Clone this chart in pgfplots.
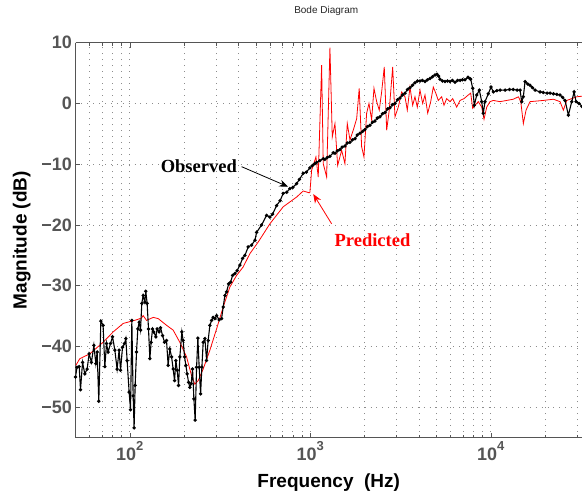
\documentclass[border=0pt]{standalone}
\usepackage{fontspec}
\setmainfont{Liberation Sans}
\newfontfamily\timesfont{Liberation Serif}
\usepackage{pgfplots}
\pgfplotsset{compat=1.18}
\usetikzlibrary{arrows.meta}
\definecolor{tickgray}{RGB}{85,85,85}
\definecolor{gridgray}{RGB}{140,140,140}

\begin{document}
\begin{tikzpicture}
\begin{axis}[
    scale only axis,
    width=506.5pt, height=395pt,
    xmode=log,
    xmin=50, xmax=32000,
    ymin=-55, ymax=10,
    axis y line*=left,
    y axis line style={-},
    axis line style={tickgray, line width=0.8pt},
    xtick={100,1000,10000},
    xticklabels={{10\raisebox{0.55em}{\fontsize{13}{13}\selectfont 2}},
                 {10\raisebox{0.55em}{\fontsize{13}{13}\selectfont 3}},
                 {10\raisebox{0.55em}{\fontsize{13}{13}\selectfont 4}}},
    minor xtick={50,60,70,80,90,200,300,400,500,600,700,800,900,
                 2000,3000,4000,5000,6000,7000,8000,9000,20000,30000},
    ytick={-50,-40,-30,-20,-10,0,10},
    yticklabels={−50,−40,−30,−20,−10,0,10},
    grid=both,
    major grid style={gridgray, line width=0.7pt, dash pattern=on 0.9pt off 5pt},
    minor grid style={gridgray, line width=0.7pt, dash pattern=on 0.9pt off 5pt},
    major tick length=5pt, minor tick length=3pt,
    tick style={tickgray, line width=0.6pt},
    tick label style={font=\fontsize{18}{18}\selectfont\bfseries, text=tickgray},
    xlabel={Frequency\ \ (Hz)},
    ylabel={Magnitude (dB)},
    label style={font=\fontsize{19}{19}\selectfont\bfseries},
    xlabel style={at={(axis description cs:0.5,-0.127)}, anchor=base},
    ylabel style={at={(axis description cs:-0.1062,0.5)}, anchor=center},
    title={Bode Diagram},
    title style={font=\fontsize{10}{12}\selectfont, text=black!85,
                 at={(axis description cs:0.495,1.065)}, anchor=center},
]
% Predicted
\addplot[red, line width=0.8pt, mark=none] coordinates {
 (50.2,-43.1) (52.8,-42.0) (60.0,-41.2) (71.1,-39.3) (80.8,-37.6) (91.8,-36.2)
 (108.9,-35.6) (116.1,-35.3) (118.5,-34.9) (123.8,-35.7) (134.7,-35.2) (143.6,-35.4)
 (159.7,-36.5) (173.8,-37.3) (189.3,-39.3) (206.2,-41.7) (219.8,-44.8) (229.3,-46.2)
 (239.2,-45.6) (254.9,-43.7) (277.6,-40.6) (302.4,-37.1) (329.0,-33.5) (358.4,-30.2)
 (390.3,-28.3) (424.6,-26.9) (462.7,-24.7) (514.3,-22.8) (597.0,-19.8) (707.5,-17.0)
 (839.5,-15.4) (913.2,-14.4) (986,-14.7) (994.7,-14.6) (1016.7,-11.0) (1074,-8.8)
 (1106,-12.1) (1155,6.3) (1179,-9.9) (1231,-12.1) (1284,9.2) (1323,-5.5) (1369,-3.3)
 (1417,-10.2) (1491,-7.7) (1555,-9.9) (1602,-3.3) (1658,-6.0) (1729,-4.4) (1806,-2.5)
 (1866,2.5) (1924,-7.1) (1982,-8.8) (2051,-1.6) (2113,0) (2186,-2.7) (2252,2.5)
 (2331,0.3) (2409,-1.1) (2484,1.9) (2568,6.0) (2648,-4.4) (2737,-1.1) (2859,6.0)
 (2944,-2.2) (3071,-0.6) (3207,1.9) (3345,1.1) (3445,-1.1) (3565,2.7) (3690,-0.3)
 (3800,1.1) (3914,-0.6) (4050,2.2) (4192,0) (4318,1.4) (4470,-1.6) (4644,0.3)
 (4800,2.7) (4968,1.6) (5116,0.5) (5342,1.1) (5502,-0.3) (5694,0.8) (5939,0.3)
 (6147,0.8) (6470,-0.6) (6750,0.5) (7103,0.8) (7503,1.4) (7736,1.7) (7936,-0.8)
 (8173,-0.3) (8525,0.3) (8902,-0.6) (9168,-2.6) (9489,-0.6) (9897,0.3) (10323,0.5)
 (11245,0.3) (12246,0.5) (13325,0.7) (14207,1.1) (14649,0.3) (15143,-3.3) (15668,-1.1)
 (16488,0.3) (17963,0.4) (19538,0.5) (22208,0.7) (24180,0.3) (25221,-1.1) (26343,0.5)
 (28078,0.8) (29923,1.1) (32000,1.2)
};
% Observed
\addplot[black, line width=1.1pt, mark=*, mark size=1.1pt] coordinates {
 (50,-45.0) (51.0,-43.4) (52.4,-43.3) (53.3,-47.1) (54.7,-42.6) (56.3,-44.5) (58.0,-43.7)
 (59.5,-41.2) (61.3,-42.6) (63.2,-39.8) (64.8,-42.8) (65.9,-40.9) (67.3,-49.0) (69.1,-35.8)
 (71.1,-36.5) (72.7,-43.3) (74.3,-39.5) (75.8,-40.9) (78.2,-39.5) (80.2,-38.4) (82.6,-40.6)
 (85.0,-43.7) (87.2,-40.6) (88.8,-43.9) (91.1,-40.1) (93.5,-39.5) (95.0,-38.7) (96.6,-42.3)
 (99.1,-47.5) (100.9,-50.4) (102.6,-35.7) (104.3,-48.1) (105.6,-53.4) (107.0,-46.4)
 (108.9,-40.9) (110.7,-37.1) (112.6,-36.0) (114.6,-37.3) (116.5,-32.9) (118.5,-31.6)
 (121.1,-32.7) (122.6,-30.9) (124.7,-32.9) (126.9,-37.1) (129.1,-42.0) (131.2,-39.3)
 (133.6,-37.1) (135.8,-37.6) (139.3,-38.4) (141.7,-37.1) (145.3,-37.6) (148.0,-36.9)
 (151.8,-38.2) (155.7,-39.3) (159.7,-39.0) (163.0,-43.1) (166.6,-40.4) (170.3,-41.7)
 (173.8,-43.7) (176.9,-45.6) (179.9,-42.3) (182.9,-43.9) (186.2,-46.4) (189.3,-41.7)
 (194.2,-37.6) (197.4,-39.0) (201.0,-41.7) (204.4,-43.1) (207.8,-44.5) (211.6,-45.9)
 (215.1,-46.7) (218.7,-46.1) (222.6,-43.7) (226.4,-48.6) (230.1,-52.1) (234.3,-43.4)
 (238.2,-38.6) (242.2,-43.4) (246.6,-47.8) (250.7,-43.4) (254.9,-39.3) (260.5,-38.7)
 (266.2,-42.3) (271.6,-39.0) (277.6,-36.5) (283.8,-35.7) (289.5,-35.2) (295.9,-35.4)
 (302.4,-34.9) (312.6,-35.6) (322.3,-35.4) (329.0,-33.5) (336.2,-31.6) (343.6,-31.0)
 (352.5,-29.7) (361.6,-29.4) (371.0,-28.3) (382.0,-28.0) (393.4,-27.5) (407.2,-26.6)
 (421.5,-25.5) (434.1,-25.0) (452.8,-23.6) (472.8,-23.3) (493.2,-22.5) (504.0,-21.2)
 (537.0,-20.0) (572.4,-18.4) (597.0,-18.7) (618,-18.2) (650.4,-16.8) (680,-16.0)
 (707.5,-14.8) (740,-14.6) (770.8,-14.0) (800,-13.8) (839.5,-13.2) (870,-12.5)
 (913.2,-11.5) (950,-11.3) (994.7,-10.6) (1030,-10.2) (1060,-9.9) (1083,-9.7)
 (1130,-9.4) (1179,-9.1) (1205,-9.2) (1240,-8.9) (1284,-8.7) (1339,-8.1) (1369,-8.2)
 (1410,-7.8) (1459,-7.6) (1500,-7.2) (1555,-7.0) (1600,-6.5) (1658,-6.4) (1710,-6.0)
 (1767,-5.8) (1820,-5.2) (1883,-4.9) (1950,-4.6) (2007,-4.3) (2070,-3.8) (2140,-3.6)
 (2210,-3.1) (2280,-2.9) (2350,-2.4) (2431,-2.2) (2510,-1.7) (2591,-1.5) (2680,-0.9)
 (2762,-0.7) (2850,-0.2) (2944,0.0) (3040,0.6) (3139,0.9) (3240,1.4) (3345,1.7)
 (3450,2.3) (3565,2.6) (3680,3.0) (3800,3.4) (3920,3.7) (4050,3.7) (4180,3.8)
 (4318,3.6) (4450,3.9) (4602,4.1) (4750,4.4) (4905,4.7) (5031,4.8) (5130,4.5)
 (5228,4.0) (5400,3.7) (5572,3.6) (5750,3.7) (5939,3.6) (6130,3.8) (6330,3.5)
 (6540,3.8) (6750,3.8) (6970,3.9) (7193,3.9) (7474,4.3) (7650,4.1) (7736,4.0)
 (7936,2.5) (8100,-0.3) (8353,1.4) (8636,2.2) (8902,0.3) (9085,-1.6) (9284,0.3)
 (9683,1.6) (10023,2.7) (10323,1.9) (10800,2.1) (11245,2.2) (12000,2.2) (12700,2.3)
 (13325,2.3) (14000,2.2) (14513,2.2) (14831,0.3) (15138,1.1) (15470,3.6) (16000,3.2)
 (16488,3.0) (17000,2.6) (17579,2.2) (18740,1.9) (19500,1.8) (20500,1.7) (21300,1.7)
 (22208,1.6) (23200,1.5) (24180,1.4) (25000,1.0) (25776,0.5) (26886,-1.9) (28078,0.3)
 (28915,1.9) (29665,0.3) (30825,0.0) (32000,-0.5)
};
% annotations
\node[font=\timesfont\fontsize{18.5}{20}\selectfont\bfseries] at (axis cs:241,-10.3) {Observed};
\draw[-{Stealth[length=9pt,width=7pt]}, line width=0.8pt] (axis cs:416,-10.4) -- (axis cs:754,-13.7);
\node[red, font=\timesfont\fontsize{18.5}{20}\selectfont\bfseries] at (axis cs:2209,-22.5) {Predicted};
\draw[red, -{Stealth[length=9pt,width=7pt]}, line width=0.8pt] (axis cs:1312,-19.8) -- (axis cs:1038,-14.9);
\end{axis}
\pgfresetboundingbox
\path (current axis.south west) ++(-75.5pt,-53.3pt) rectangle ++(582pt,491pt);
\end{tikzpicture}
\end{document}
